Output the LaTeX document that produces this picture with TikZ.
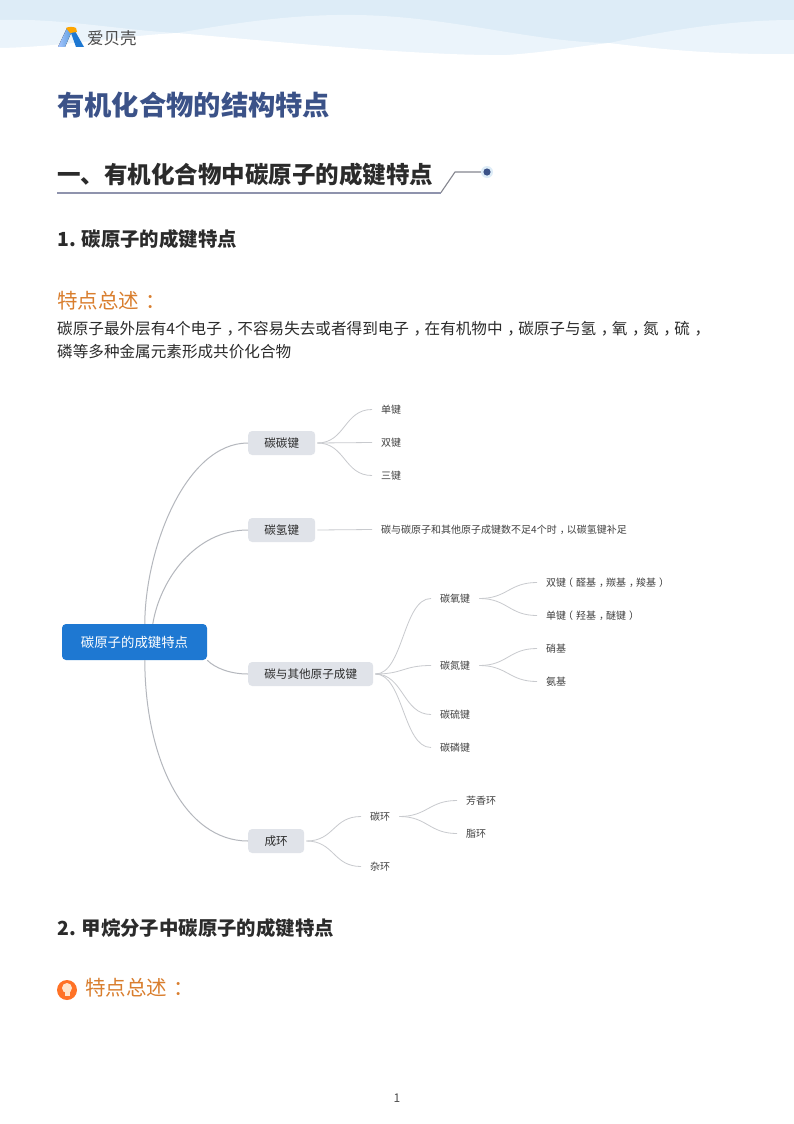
\documentclass[tikz,border=0pt]{standalone}
\usepackage{fontspec}
\setmainfont{Noto Sans CJK SC}
\newcommand{\fs}[1]{\fontsize{#1pt}{#1pt}\selectfont}
\newcommand{\pc}[1]{\kern.3em #1\kern-.3em}
\newcommand{\po}[1]{\kern-.3em #1\kern.3em}
\newcommand{\up}[1]{\raisebox{.8pt}{#1}}
\definecolor{wavedark}{HTML}{DDECF7}
\definecolor{wavelight}{HTML}{EBF4FB}
\definecolor{titleblue}{HTML}{3B5288}
\definecolor{headink}{HTML}{2B2B2B}
\definecolor{orangeink}{HTML}{D97E2E}
\definecolor{rootblue}{HTML}{1E78D2}
\definecolor{boxgrey}{HTML}{E0E3E9}
\definecolor{branchgrey}{HTML}{B4B7BD}
\definecolor{twiggrey}{HTML}{C8CACE}
\definecolor{lineblue}{HTML}{8F93AD}
\definecolor{linegrey}{HTML}{85868F}
\tikzset{
  txt/.style={anchor=west,inner sep=0pt,text=headink},
  rootbox/.style={fill=rootblue,rounded corners=4pt,text=white,minimum width=145pt,minimum height=36pt,inner sep=0pt,font=\fs{13.4}},
  greybox/.style={fill=boxgrey,rounded corners=4pt,text=headink,minimum height=24pt,inner sep=0pt,font=\fs{11.6},anchor=west},
  leaf/.style={anchor=west,inner xsep=9pt,inner ysep=0pt,text=black!75,font=\fs{10}},
  branch/.style={draw=branchgrey,line width=1pt},
  twig/.style={draw=twiggrey,line width=0.8pt},
}
\begin{document}
\begin{tikzpicture}[x=1pt,y=-1pt]
\useasboundingbox (0,0) rectangle (794,1124);
\fill[white] (0,0) rectangle (794,1124);
% header waves
\fill[wavedark] (0,0) rectangle (794,50);
\fill[wavelight] (0,20) .. controls (60,18) and (120,30) .. (177,33)
  .. controls (230,24) and (290,14) .. (355,15)
  .. controls (450,16) and (530,42) .. (609,43)
  .. controls (670,30) and (730,20) .. (794,20) -- (794,56) -- (0,56) -- cycle;
\fill[white] (0,48) .. controls (60,47) and (120,36) .. (177,33)
  .. controls (280,42) and (420,56) .. (507,55)
  .. controls (550,52) and (580,46) .. (609,43)
  .. controls (650,48) and (710,55) .. (794,54) -- (794,60) -- (0,60) -- cycle;
% logo
\fill[left color=cyan!35!blue!35,right color=rootblue!70] (58,47) -- (67,28) -- (71,33) -- (65,47) -- cycle;
\fill[rootblue] (71,33) -- (75,31) -- (84,47) -- (76,47) -- cycle;
\fill[orange!70!yellow] (66,28) .. controls (68,26.5) and (74,26.5) .. (76,28) -- (77,32) -- (70,33) -- cycle;
\node[txt,text=black!70,font=\fs{16.5}] (brand) at (87,38) {爱贝壳};
% headings
\node[txt,text=titleblue,font=\bfseries\fs{27.3}] (title) at (57,105) {有机化合物的结构特点};
\node[txt,font=\bfseries\fs{23.5}] (sec) at (57,175) {一、有机化合物中碳原子的成键特点};
\coordinate (ulstart) at (57,192.5);
\coordinate (ulbend) at (441,192.5);
\coordinate (ultop) at (455,172);
\node[circle,fill=wavedark,minimum size=12pt,inner sep=0pt] (dot) at (487,172) {};
\fill[titleblue] (dot) circle (3.6);
\draw[lineblue,line width=2pt] (ulstart) -- (ulbend);
\draw[linegrey,line width=1.1pt] (ulbend) -- (ultop) -- (dot.west);
\node[txt,font=\bfseries\fs{19.4}] (sub1) at (57,239) {1. 碳原子的成键特点};
\node[txt,text=orangeink,font=\fs{20.5}] (note1) at (57,301) {特点总述\pc{：}};
\node[txt,font=\fs{15.6}] (p1) at (57,329) {碳原子最外层有4个电子\pc{，}不容易失去或者得到电子\pc{，}在有机物中\pc{，}碳原子与氢\pc{，}氧\pc{，}氮\pc{，}硫\pc{，}};
\node[txt,font=\fs{15.6}] (p2) at (57,352) {磷等多种金属元素形成共价化合物};
% mind map nodes
\node[rootbox] (root) at (134.5,642) {\up{碳原子的成键特点}};
\node[greybox,minimum width=67pt] (cc) at (248,443) {\up{碳碳键}};
\node[greybox,minimum width=67pt] (ch) at (248,530) {\up{碳氢键}};
\node[greybox,minimum width=125pt] (cx) at (248,674) {\up{碳与其他原子成键}};
\node[greybox,minimum width=56pt] (ring) at (248,841) {\up{成环}};
\node[leaf] (l1) at (372,409.5) {单键};
\node[leaf] (l2) at (372,442.5) {双键};
\node[leaf] (l3) at (372,475.5) {三键};
\node[leaf] (l4) at (372,529.5) {碳与碳原子和其他原子成键数不足4个时\pc{，}以碳氢键补足};
\node[leaf] (co) at (431,598.5) {碳氧键};
\node[leaf] (cn) at (431,665.5) {碳氮键};
\node[leaf] (cs) at (431,714.5) {碳硫键};
\node[leaf] (cp) at (431,747.5) {碳磷键};
\node[leaf] (d1) at (537,582.5) {双键\po{（}醛基\pc{，}羰基\pc{，}羧基\pc{）}};
\node[leaf] (d2) at (537,615.5) {单键\po{（}羟基\pc{，}醚键\pc{）}};
\node[leaf] (n1) at (537,648.5) {硝基};
\node[leaf] (n2) at (537,681.5) {氨基};
\node[leaf] (r1) at (361,816.5) {碳环};
\node[leaf] (r2) at (361,866.5) {杂环};
\node[leaf] (r3) at (457,800.5) {芳香环};
\node[leaf] (r4) at (457,833.5) {脂环};
% root connectors
\path (root.north west) ++(83,0) coordinate (ra) ++(8,0) coordinate (rb);
\path (root.south west) ++(83,0) coordinate (rc);
\draw[branch] (ra) .. controls (145,550) and (185,443) .. (cc.west);
\draw[branch] (rb) .. controls (160,580) and (195,530) .. (ch.west);
\draw[branch] (root.south east) .. controls (215,668) and (230,674) .. (cx.west);
\draw[branch] (rc) .. controls (145,760) and (185,841) .. (ring.west);
% twigs
\foreach \a/\b in {cc/l1,cc/l2,cc/l3,ch/l4,cx/co,cx/cn,cx/cs,cx/cp,ring/r1,ring/r2}
  \draw[twig] (\a.east) ++(2,0) .. controls +(28,0) and +(-28,0) .. (\b.west);
\foreach \a/\b in {co/d1,co/d2,cn/n1,cn/n2,r1/r3,r1/r4}
  \draw[twig] (\a.east) .. controls +(28,0) and +(-28,0) .. (\b.west);
% second heading
\node[txt,font=\bfseries\fs{19.4}] (sub2) at (57,928) {2. 甲烷分子中碳原子的成键特点};
\fill[orange!70!red!85] (67,990) circle (10);
\fill[white!80!orange] (67,988) circle (5);
\fill[white!80!orange] (64.5,991) rectangle (69.5,996);
\node[txt,text=orangeink,font=\fs{20.5}] (note2) at (85,988) {特点总述\pc{：}};
\node[inner sep=0pt,text=black!70,font=\fs{12}] (pg) at (397,1098) {1};
\end{tikzpicture}
\end{document}
